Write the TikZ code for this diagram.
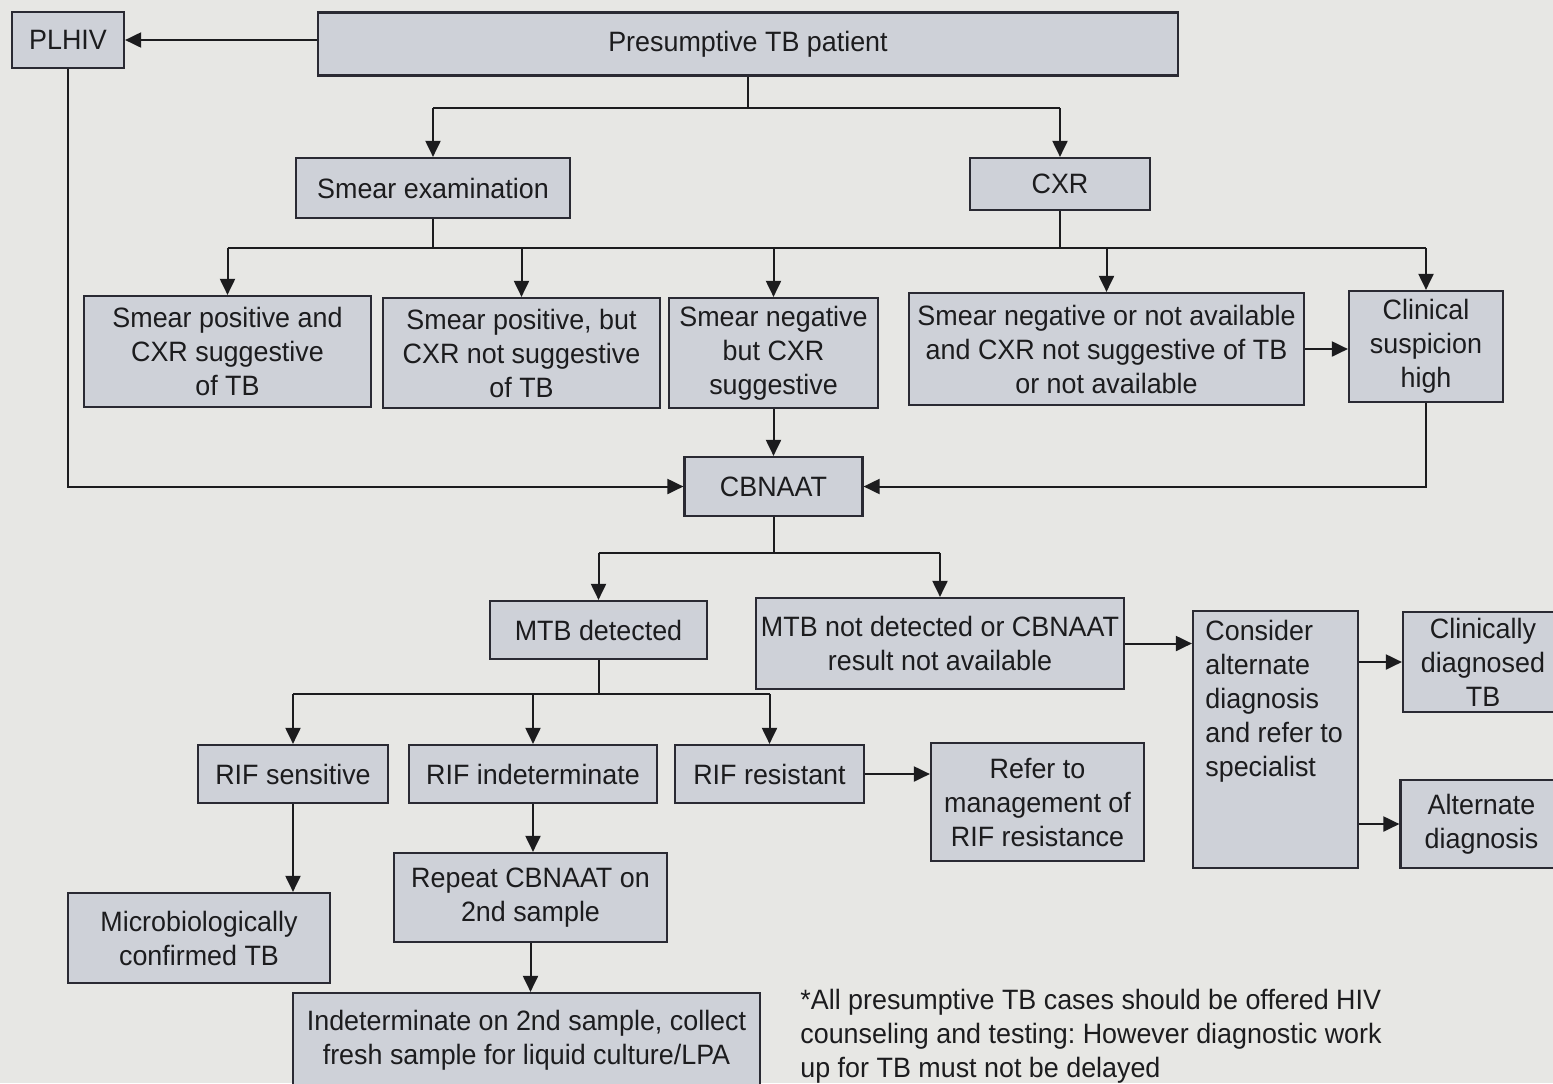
\documentclass[tikz,border=0pt]{standalone}
\usepackage{fontspec}
\setmainfont{Liberation Sans}[FakeStretch=0.96]
\usetikzlibrary{arrows.meta}
\frenchspacing
\definecolor{paper}{HTML}{E7E7E4}
\definecolor{boxfill}{HTML}{CED1D8}
\definecolor{boxline}{HTML}{2A2A33}
\definecolor{inkcol}{HTML}{1C1C1E}
\tikzset{
  box/.style={draw=boxline, fill=boxfill, line width=1.1pt,
    align=center, inner sep=1pt, text=inkcol},
  conn/.style={draw=inkcol, line width=1pt},
  arr/.style={conn, -{Triangle[length=8pt,width=7.5pt]}},
}
\begin{document}
\begin{tikzpicture}[x=0.5pt, y=-0.5pt, font=\fontsize{14}{17}\selectfont]
\useasboundingbox (0,0) rectangle (1553,1083);
\fill[paper] (0,0) rectangle (1553,1083);

% nodes
\node[box, minimum width=56pt, minimum height=28pt] (plhiv) at (68,40) {PLHIV};
\node[box, minimum width=430pt, minimum height=31.5pt] (pres) at (748,44) {Presumptive TB patient};
\node[box, minimum width=137pt, minimum height=30pt] (smear) at (433,188) {Smear examination};
\node[box, minimum width=90pt, minimum height=26pt] (cxr) at (1060,184) {CXR};

\node[box, minimum width=143.5pt, minimum height=55.5pt] (spos) at (227.5,351.5) {Smear positive and\\CXR suggestive\\of TB};
\node[box, minimum width=138.5pt, minimum height=55pt] (sposn) at (521.5,353) {Smear positive, but\\CXR not suggestive\\of TB};
\node[box, minimum width=104.5pt, minimum height=55pt] (sneg) at (773.5,353) {Smear negative\\but CXR\\suggestive};
\node[box, minimum width=197.5pt, minimum height=56pt] (snegn) at (1106.5,349) {Smear negative or not available\\and CXR not suggestive of TB\\or not available};
\node[box, minimum width=77pt, minimum height=55.5pt] (clsus) at (1426,346.5) {Clinical\\suspicion\\high};

\node[box, minimum width=89pt, minimum height=29.5pt] (cbnaat) at (773.5,486.5) {CBNAAT};

\node[box, minimum width=108.5pt, minimum height=29pt] (mtbd) at (598.5,630) {MTB detected};
\node[box, minimum width=184pt, minimum height=45.5pt] (mtbn) at (940,643.5) {MTB not detected or CBNAAT\\result not available};
\node[box, minimum width=82.5pt, minimum height=128.5pt] (cons) at (1275.5,739.5) {};
\node[anchor=north west, align=left, inner sep=0pt, text=inkcol] (constxt) at (1205,620) {Consider\\alternate\\diagnosis\\and refer to\\specialist};
\node[box, minimum width=80pt, minimum height=50pt] (clin) at (1483,662) {Clinically\\diagnosed\\TB};
\node[box, minimum width=81pt, minimum height=44pt] (alt) at (1481.5,824) {Alternate\\diagnosis};

\node[box, minimum width=95pt, minimum height=29pt] (rifs) at (293,774) {RIF sensitive};
\node[box, minimum width=124pt, minimum height=29pt] (rifi) at (533,774) {RIF indeterminate};
\node[box, minimum width=94.5pt, minimum height=29pt] (rifr) at (769.5,774) {RIF resistant};
\node[box, minimum width=106.5pt, minimum height=59pt] (refer) at (1037.5,802) {Refer to\\management of\\RIF resistance};

\node[box, minimum width=131pt, minimum height=45pt] (micro) at (199,938) {Microbiologically\\confirmed TB};
\node[box, minimum width=136.5pt, minimum height=44.5pt] (repeat) at (530.5,897.5) {Repeat CBNAAT on\\2nd sample};
\node[box, minimum width=233.5pt, minimum height=47.5pt] (indet) at (526.5,1040.5) {Indeterminate on 2nd sample, collect\\fresh sample for liquid culture/LPA};

\node[anchor=west, align=left, inner sep=0pt, text=inkcol] (note) at (800,1036) {*All presumptive TB cases should be offered HIV\\counseling and testing: However diagnostic work\\up for TB must not be delayed};

% helper rows
\coordinate (r1) at (0,108);
\coordinate (r2) at (0,248);
\coordinate (r3) at (0,553);
\coordinate (r4) at (0,694);

% connectors
\draw[arr] (pres.west |- plhiv.east) -- (plhiv.east);

\draw[conn] (pres.south) -- (pres.south |- r1);
\draw[conn] (smear.north |- r1) -- (cxr.north |- r1);
\draw[arr] (smear.north |- r1) -- (smear.north);
\draw[arr] (cxr.north |- r1) -- (cxr.north);

\draw[conn] (smear.south) -- (smear.south |- r2);
\draw[conn] (cxr.south) -- (cxr.south |- r2);
\draw[conn] (spos.north |- r2) -- (clsus.north |- r2);
\draw[arr] (spos.north |- r2) -- (spos.north);
\draw[arr] (sposn.north |- r2) -- (sposn.north);
\draw[arr] (sneg.north |- r2) -- (sneg.north);
\draw[arr] (snegn.north |- r2) -- (snegn.north);
\draw[arr] (clsus.north |- r2) -- (clsus.north);

\draw[arr] (snegn.east) -- (clsus.west |- snegn.east);
\draw[arr] (sneg.south) -- (cbnaat.north);
\draw[arr] (plhiv.south) |- (cbnaat.west);
\draw[arr] (clsus.south) |- (cbnaat.east);

\draw[conn] (cbnaat.south) -- (cbnaat.south |- r3);
\draw[conn] (mtbd.north |- r3) -- (mtbn.north |- r3);
\draw[arr] (mtbd.north |- r3) -- (mtbd.north);
\draw[arr] (mtbn.north |- r3) -- (mtbn.north);

\draw[arr] (mtbn.east) -- (cons.west |- mtbn.east);
\draw[arr] (cons.east |- clin.west) -- (clin.west);
\draw[arr] (cons.east |- alt.west) -- (alt.west);

\draw[conn] (mtbd.south) -- (mtbd.south |- r4);
\draw[conn] (rifs.north |- r4) -- (rifr.north |- r4);
\draw[arr] (rifs.north |- r4) -- (rifs.north);
\draw[arr] (rifi.north |- r4) -- (rifi.north);
\draw[arr] (rifr.north |- r4) -- (rifr.north);

\draw[arr] (rifr.east) -- (refer.west |- rifr.east);
\draw[arr] (rifs.south) -- (rifs.south |- micro.north);
\draw[arr] (rifi.south) -- (rifi.south |- repeat.north);
\draw[arr] (repeat.south) -- (repeat.south |- indet.north);
\end{tikzpicture}
\end{document}
